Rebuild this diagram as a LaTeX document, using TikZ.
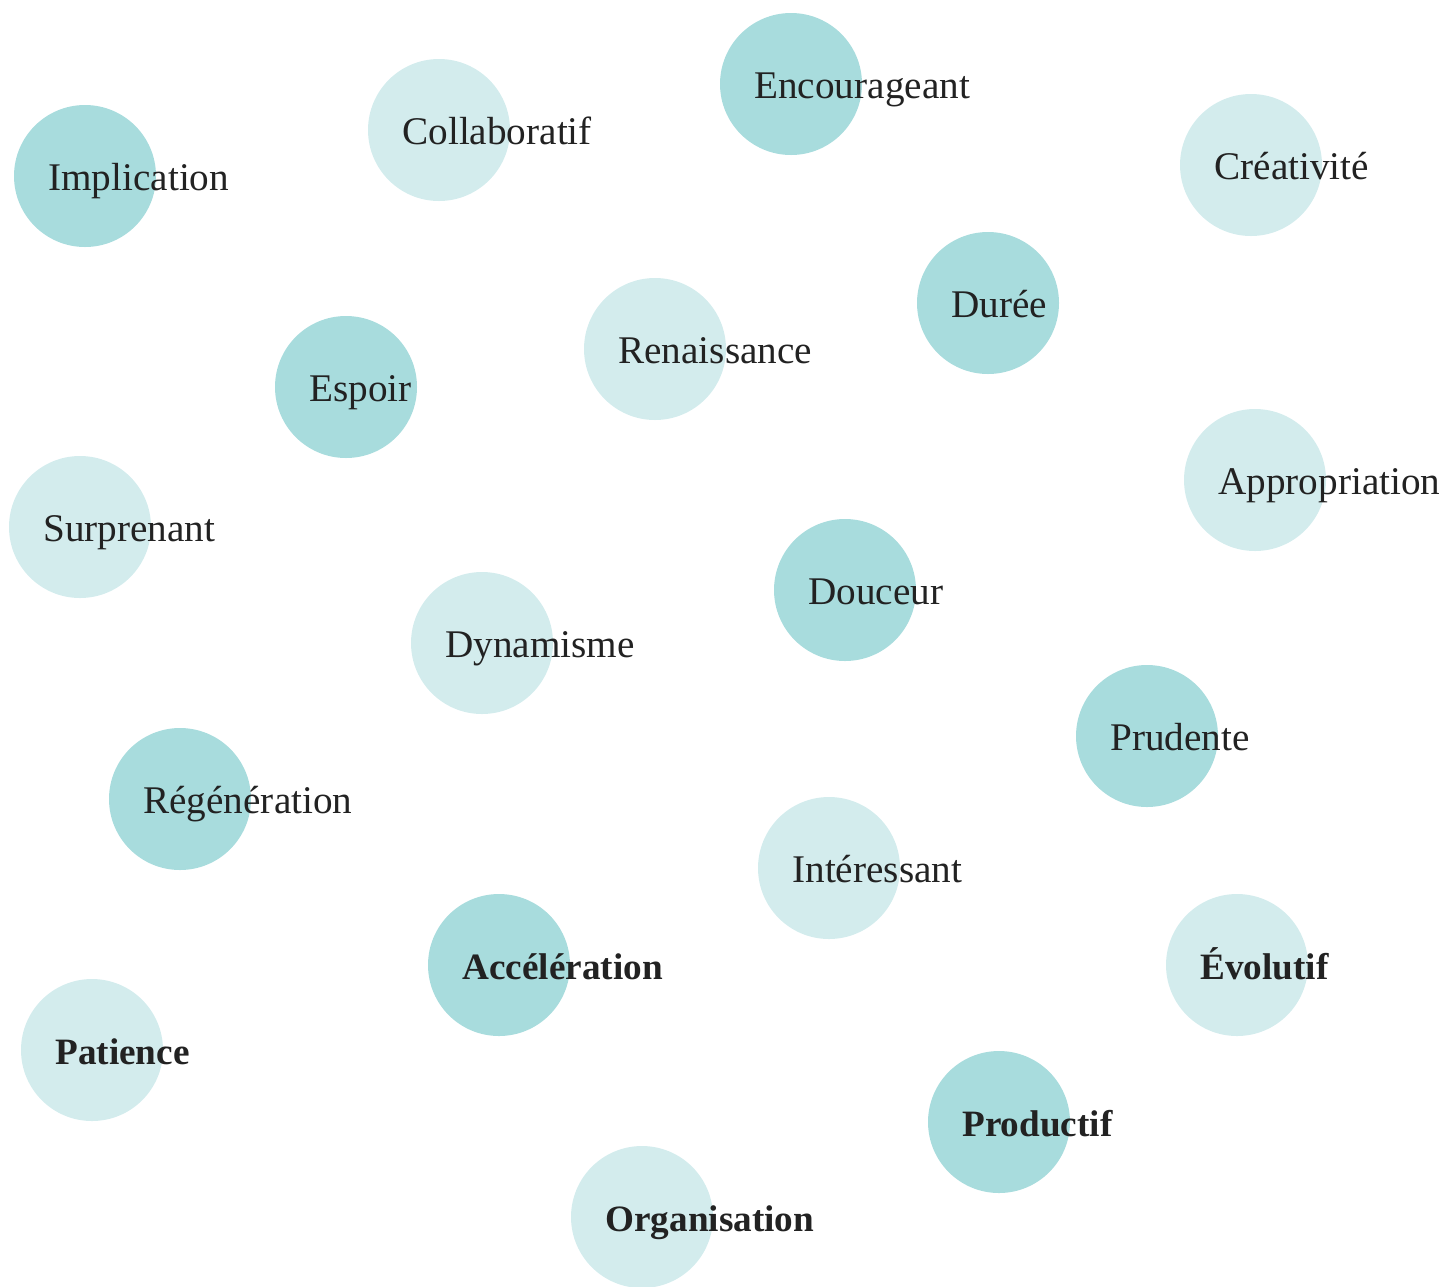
\documentclass[tikz,border=0pt]{standalone}
\usepackage{fontspec}
\setmainfont{Liberation Serif}
\definecolor{darkteal}{HTML}{A8DCDD}
\definecolor{lightteal}{HTML}{D3ECED}
\definecolor{ink}{HTML}{222222}
\begin{document}
\begin{tikzpicture}[x=0.5pt,y=-0.5pt,
  dot/.style={circle,minimum size=71pt,inner sep=0pt,draw=none},
  dk/.style={dot,fill=darkteal},
  lt/.style={dot,fill=lightteal},
  lbl/.style={anchor=base west,inner sep=0pt,text=ink,font=\fontsize{19.6pt}{22pt}\selectfont},
  blbl/.style={lbl,font=\fontsize{18.6pt}{22pt}\selectfont\bfseries}]
\path[use as bounding box] (0,0) rectangle (1444,1286);
\newcommand{\wnode}[6]{%
  \node[#4] (#1) at (#2,#3) {};
  \node[#5] (#1-t) at ([xshift=-18.5pt,yshift=-7pt]#1.center) {#6};}
\wnode{implication}{85}{176}{dk}{lbl}{Implication}
\wnode{collaboratif}{439}{130}{lt}{lbl}{Collaboratif}
\wnode{encourageant}{791}{84}{dk}{lbl}{Encourageant}
\wnode{creativite}{1251}{165}{lt}{lbl}{Créativité}
\wnode{duree}{988}{303}{dk}{lbl}{Durée}
\wnode{renaissance}{655}{349}{lt}{lbl}{Renaissance}
\wnode{espoir}{346}{387}{dk}{lbl}{Espoir}
\wnode{appropriation}{1255}{480}{lt}{lbl}{Appropriation}
\wnode{surprenant}{80}{527}{lt}{lbl}{Surprenant}
\wnode{douceur}{845}{590}{dk}{lbl}{Douceur}
\wnode{dynamisme}{482}{643}{lt}{lbl}{Dynamisme}
\wnode{prudente}{1147}{736}{dk}{lbl}{Prudente}
\wnode{regeneration}{180}{799}{dk}{lbl}{Régénération}
\wnode{interessant}{829}{868}{lt}{lbl}{Intéressant}
\wnode{acceleration}{499}{965}{dk}{blbl}{Accélération}
\wnode{evolutif}{1237}{965}{lt}{blbl}{Évolutif}
\wnode{patience}{92}{1050}{lt}{blbl}{Patience}
\wnode{productif}{999}{1122}{dk}{blbl}{Productif}
\wnode{organisation}{642}{1217}{lt}{blbl}{Organisation}
\end{tikzpicture}
\end{document}
